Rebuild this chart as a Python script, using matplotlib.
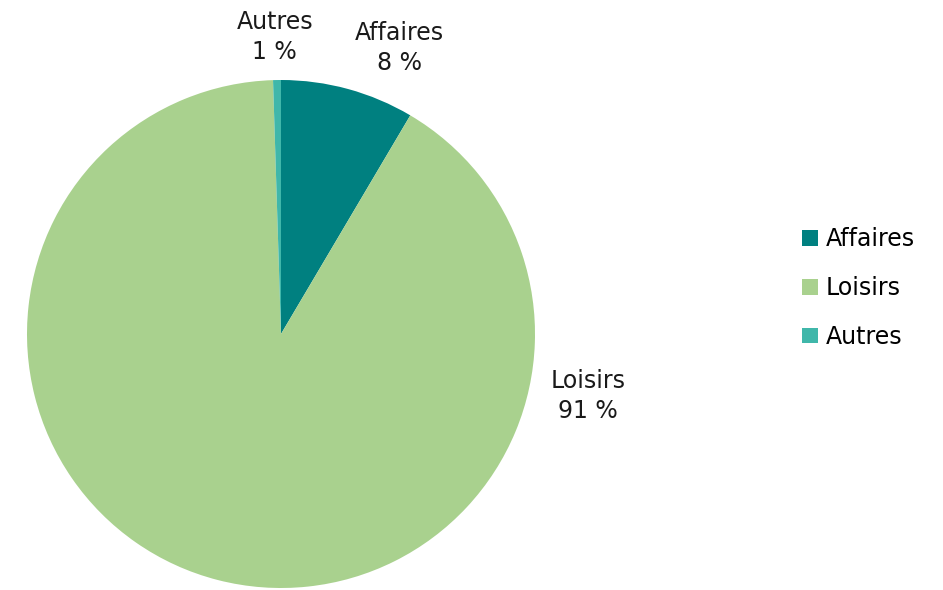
import numpy as np
import matplotlib.pyplot as plt
from matplotlib.patches import Patch

plt.rcParams['font.family'] = ['DejaVu Sans']

categories = ['Affaires', 'Loisirs', 'Autres']
shares = [8.5, 91.0, 0.5]
pct_labels = ['8 %', '91 %', '1 %']
colors = ['#008080', '#A9D18E', '#40B7AA']

# where each data label sits (data coords, pie radius = 1)
label_pos = {'Affaires': (0.465, 1.125), 'Loisirs': (1.21, -0.245), 'Autres': (-0.025, 1.17)}

fig = plt.figure(figsize=(9.43, 5.9), dpi=100)
ax = fig.add_axes([27 / 943, 2 / 590, 508 / 943, 508 / 590])

wedges, _ = ax.pie(shares, colors=colors, startangle=90, counterclock=False,
                   radius=1, wedgeprops=dict(linewidth=0))
ax.set_xlim(-1, 1)
ax.set_ylim(-1, 1)
ax.set_aspect('equal')
ax.axis('off')

for cat, pct in zip(categories, pct_labels):
    x, y = label_pos[cat]
    ax.text(x, y, cat + '\n' + pct, ha='center', va='center', fontsize=17,
            color='#1a1a1a', linespacing=1.3, clip_on=False)

handles = [Patch(facecolor=c, edgecolor='none') for c in colors]
fig.legend(handles, categories, loc='center left', bbox_to_anchor=(0.851, 0.512),
           frameon=False, fontsize=17, handlelength=0.65, handleheight=0.65,
           handletextpad=0.35, labelspacing=1.05, borderaxespad=0, borderpad=0)

fig.savefig('out.png', dpi=100)
